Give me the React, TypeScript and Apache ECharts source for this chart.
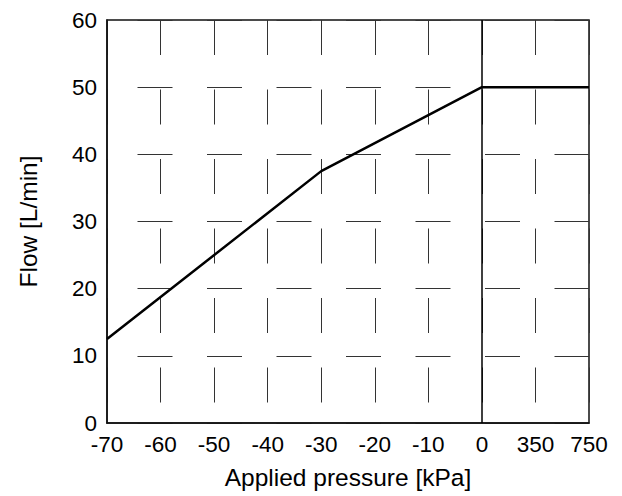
import React, { useEffect, useRef } from "react";
import * as echarts from "echarts";

const categories = ["-70", "-60", "-50", "-40", "-30", "-20", "-10", "0", "350", "750"];
const flowPoints: [string, number][] = [
  ["-70", 12.5],
  ["-30", 37.5],
  ["0", 50],
  ["750", 50],
];
const yTicks = { min: 0, max: 60, interval: 10 };
const xName = "Applied pressure [kPa]";
const yName = "Flow [L/min]";
const dividerCategory = "0";

const FONT = "'Liberation Sans', Arial, sans-serif";

export default function App() {
  const ref = useRef<HTMLDivElement>(null);
  useEffect(() => {
    if (!ref.current) return;
    const chart = echarts.init(ref.current, undefined, { renderer: "svg" });
    chart.setOption({
      animation: false,
      backgroundColor: "#fff",
      grid: {
        left: 107,
        top: 20,
        right: 33,
        bottom: 73,
        show: true,
        borderColor: "#111",
        borderWidth: 1.5,
      },
      xAxis: {
        type: "category",
        data: categories,
        boundaryGap: false,
        name: xName,
        nameLocation: "middle",
        nameGap: 42,
        nameTextStyle: { fontFamily: FONT, fontSize: 24.5, color: "#000" },
        axisLine: { show: true, lineStyle: { color: "#111", width: 1.5 } },
        axisTick: { show: false },
        axisLabel: { fontFamily: FONT, fontSize: 22.5, color: "#000", margin: 10 },
        splitLine: {
          show: true,
          lineStyle: { color: "#333", width: 1, type: [35, 34.5], dashOffset: 0 },
        },
      },
      yAxis: {
        type: "value",
        min: yTicks.min,
        max: yTicks.max,
        interval: yTicks.interval,
        name: yName,
        nameLocation: "middle",
        nameGap: 66,
        nameTextStyle: { fontFamily: FONT, fontSize: 24.5, color: "#000" },
        axisLine: { show: true, lineStyle: { color: "#111", width: 1.5 } },
        axisTick: { show: false },
        axisLabel: { fontFamily: FONT, fontSize: 22.5, color: "#000", margin: 10 },
        splitLine: {
          show: true,
          lineStyle: { color: "#333", width: 1, type: [35, 34.5], dashOffset: 38.5 },
        },
      },
      series: [
        {
          type: "line",
          data: flowPoints,
          symbol: "none",
          lineStyle: { color: "#000", width: 2.5 },
          markLine: {
            silent: true,
            symbol: "none",
            label: { show: false },
            lineStyle: { color: "#000", width: 1.5, type: "solid" },
            data: [{ xAxis: dividerCategory }],
          },
        },
      ],
    });
    return () => chart.dispose();
  }, []);
  return <div ref={ref} style={{ width: 622, height: 496, marginLeft: -8, marginTop: -8 }} />;
}
